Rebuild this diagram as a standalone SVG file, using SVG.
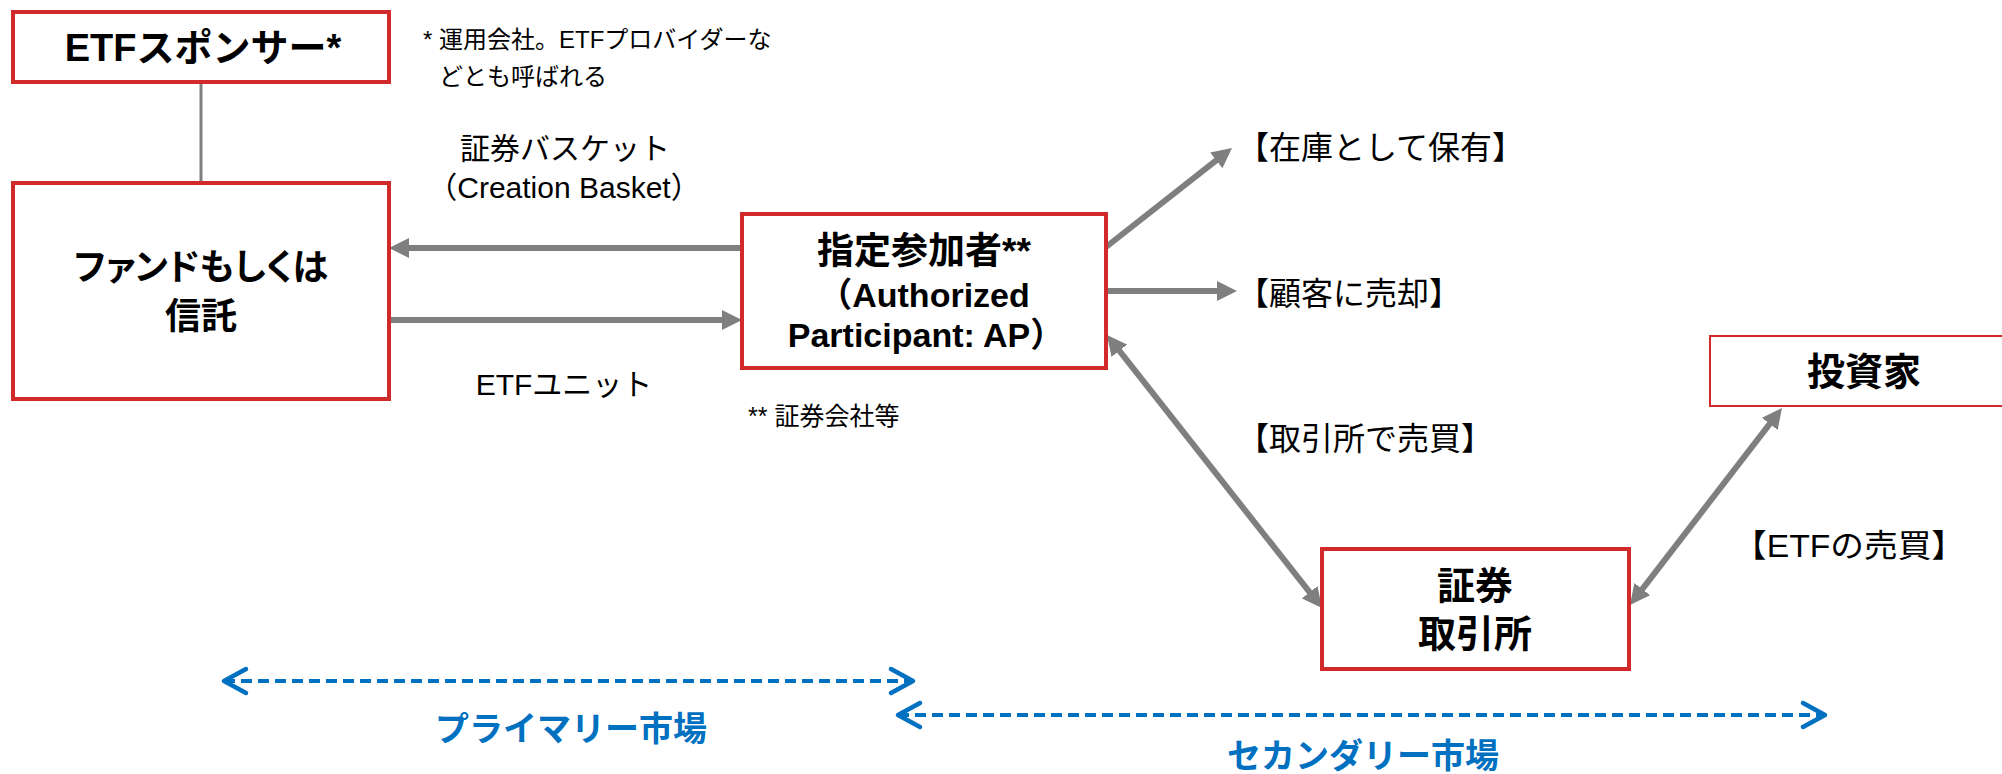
<svg xmlns="http://www.w3.org/2000/svg" width="2002" height="774" viewBox="0 0 2002 774">
<style>
.box{fill:#fff;stroke:#D12A2A;stroke-width:4}
.thin{stroke-width:2}
.t{font-family:"Liberation Sans","Noto Sans CJK JP",sans-serif;fill:#000}
.b{font-weight:bold}
.c{text-anchor:middle}
.conn{stroke:#7F7F7F;stroke-width:6;fill:none}
.line{stroke:#7F7F7F;stroke-width:3;fill:none}
.dash{stroke:#0070C0;stroke-width:4;stroke-dasharray:11 6;fill:none}
.blue{fill:#0070C0;font-weight:bold}
</style>
<defs>
<marker id="ah" markerUnits="userSpaceOnUse" markerWidth="20" markerHeight="20" viewBox="0 0 20 20" refX="4" refY="10" orient="auto-start-reverse">
<path d="M0,0 L20,10 L0,20 z" fill="#7F7F7F"/>
</marker>
<marker id="ch" markerUnits="userSpaceOnUse" markerWidth="30" markerHeight="30" viewBox="0 0 30 30" refX="26" refY="15" orient="auto-start-reverse" overflow="visible">
<path d="M4,3 L26,15 L4,27" fill="none" stroke="#0070C0" stroke-width="4.5" stroke-linecap="round" stroke-linejoin="round"/>
</marker>
</defs>
<rect width="2002" height="774" fill="#fff"/>
<g id="connectors">
<line class="line" x1="201" y1="82" x2="201" y2="183"/>
<line class="conn" x1="742" y1="248" x2="405" y2="248" marker-end="url(#ah)"/>
<line class="conn" x1="389" y1="320" x2="726" y2="320" marker-end="url(#ah)"/>
<line class="conn" x1="1106" y1="247" x2="1219.4" y2="157.9" marker-end="url(#ah)"/>
<line class="conn" x1="1106" y1="291" x2="1221" y2="291" marker-end="url(#ah)"/>
<line class="conn" x1="1116.9" y1="347.6" x2="1312.1" y2="595.4" marker-start="url(#ah)" marker-end="url(#ah)"/>
<line class="conn" x1="1639.8" y1="592.3" x2="1772.2" y2="420.7" marker-start="url(#ah)" marker-end="url(#ah)"/>
<line class="dash" x1="224" y1="681" x2="913" y2="681" marker-start="url(#ch)" marker-end="url(#ch)"/>
<line class="dash" x1="898" y1="715" x2="1825" y2="715" marker-start="url(#ch)" marker-end="url(#ch)"/>
</g>
<g id="sponsor">
<rect class="box" x="13" y="12" width="376" height="70"/>
<text class="t b c" x="203" y="61" font-size="38">ETFスポンサー*</text>
</g>
<g id="sponsor-note">
<text class="t" x="423" y="48" font-size="24">* 運用会社。ETFプロバイダーな</text>
<text class="t" x="439" y="85" font-size="24">どとも呼ばれる</text>
</g>
<g id="fund">
<rect class="box" x="13" y="183" width="376" height="216"/>
<text class="t b c" x="201" y="280" font-size="36" style="font-feature-settings:'palt'">ファンドもしくは</text>
<text class="t b c" x="201" y="329" font-size="36">信託</text>
</g>
<g id="basket-label">
<text class="t c" x="565" y="159" font-size="30">証券バスケット</text>
<text class="t c" x="564" y="198" font-size="30">（Creation Basket）</text>
</g>
<g id="unit-label">
<text class="t c" x="564" y="395" font-size="30">ETFユニット</text>
</g>
<g id="ap">
<rect class="box" x="742" y="214" width="364" height="154"/>
<text class="t b c" x="924" y="264" font-size="37">指定参加者**</text>
<text class="t b c" x="924" y="307" font-size="34">（Authorized</text>
<text class="t b c" x="926" y="347" font-size="34">Participant: AP）</text>
</g>
<g id="ap-note">
<text class="t" x="748" y="425" font-size="25">** 証券会社等</text>
</g>
<g id="hold-label"><text class="t" x="1237" y="159" font-size="32">【在庫として保有】</text></g>
<g id="sell-label"><text class="t" x="1237" y="305" font-size="32">【顧客に売却】</text></g>
<g id="trade-label"><text class="t" x="1237" y="450" font-size="32">【取引所で売買】</text></g>
<g id="etf-trade-label"><text class="t" x="1733" y="557" font-size="32" textLength="232" lengthAdjust="spacingAndGlyphs">【ETFの売買】</text></g>
<g id="exchange">
<rect class="box" x="1322" y="549" width="307" height="120"/>
<text class="t b c" x="1475" y="599" font-size="38">証券</text>
<text class="t b c" x="1475" y="647" font-size="38">取引所</text>
</g>
<g id="investor">
<rect class="box thin" x="1710" y="336" width="310" height="70"/>
<text class="t b c" x="1864" y="385" font-size="38">投資家</text>
</g>
<g id="markets">
<text class="t blue c" x="571" y="741" font-size="34">プライマリー市場</text>
<text class="t blue c" x="1363" y="768" font-size="34">セカンダリー市場</text>
</g>
</svg>
